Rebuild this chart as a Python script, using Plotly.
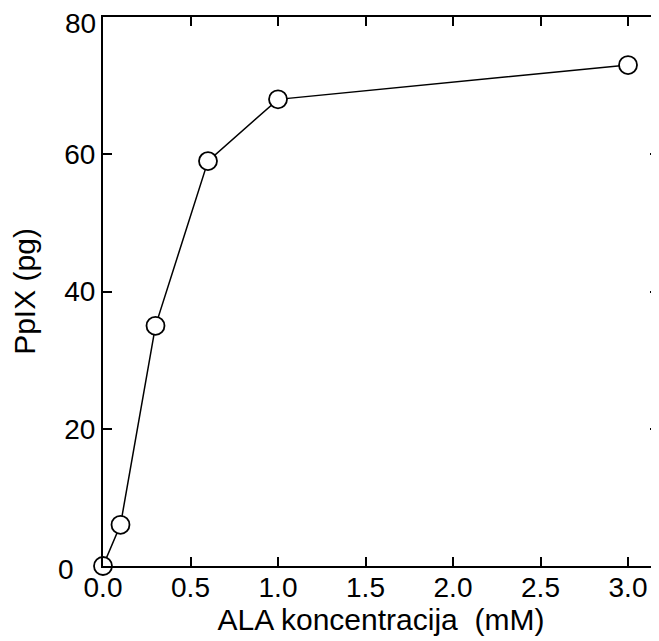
import plotly.graph_objects as go

ala_mM = [0.0, 0.1, 0.3, 0.6, 1.0, 3.0]
ppix_pg = [0, 6, 35, 59, 68, 73]

x_ticks = [0.0, 0.5, 1.0, 1.5, 2.0, 2.5, 3.0]
x_tick_labels = ["0.0", "0.5", "1.0", "1.5", "2.0", "2.5", "3.0"]
y_ticks = [0, 20, 40, 60, 80]
y_tick_labels = ["0", "20", "40", "60", "80"]

FONT = "Liberation Sans, Arial, sans-serif"
TICK_SIZE = 28

# end labels of the y axis are nudged (as in the original) so they are drawn as annotations
y_axis_text = ["" if v in (y_ticks[0], y_ticks[-1]) else t for v, t in zip(y_ticks, y_tick_labels)]

fig = go.Figure()
fig.add_trace(go.Scatter(
    x=ala_mM, y=ppix_pg, mode="lines+markers",
    line=dict(color="black", width=1.5),
    marker=dict(symbol="circle", size=18, color="white",
                line=dict(color="black", width=1.8)),
    cliponaxis=False, showlegend=False,
))

fig.add_annotation(x=0, xref="paper", y=y_ticks[-1], yref="y", text=y_tick_labels[-1],
                   showarrow=False, xanchor="right", yanchor="middle",
                   xshift=-5, yshift=-6, font=dict(size=TICK_SIZE))
fig.add_annotation(x=0, xref="paper", y=y_ticks[0], yref="y", text=y_tick_labels[0],
                   showarrow=False, xanchor="right", yanchor="middle",
                   xshift=-27, yshift=-3, font=dict(size=TICK_SIZE))

# page body has an 8px default margin: offset figure size/margins to compensate
fig.update_layout(
    width=651, height=633,
    margin=dict(l=95, r=0, t=9, b=75),
    plot_bgcolor="white", paper_bgcolor="white",
    font=dict(family=FONT, color="black"),
    xaxis=dict(
        range=[0, 3.177], tickmode="array", tickvals=x_ticks, ticktext=x_tick_labels,
        ticks="inside", ticklen=9, tickwidth=2, tickcolor="black",
        showline=True, linewidth=2, linecolor="black", mirror="allticks",
        showgrid=False, zeroline=False, tickfont=dict(size=TICK_SIZE),
        ticklabeloverflow="allow", ticklabelstandoff=-5,
        title=dict(text="ALA koncentracija\u00a0\u00a0(mM)", font=dict(size=30), standoff=2),
        automargin=False,
    ),
    yaxis=dict(
        range=[0, 80], tickmode="array", tickvals=y_ticks, ticktext=y_axis_text,
        ticks="inside", ticklen=9, tickwidth=2, tickcolor="black",
        showline=True, linewidth=2, linecolor="black", mirror="allticks",
        showgrid=False, zeroline=False, tickfont=dict(size=TICK_SIZE),
        ticklabeloverflow="allow",
        title=dict(text="PpIX (pg)", font=dict(size=30), standoff=24),
        automargin=False,
    ),
)

fig.write_html("out.html")
